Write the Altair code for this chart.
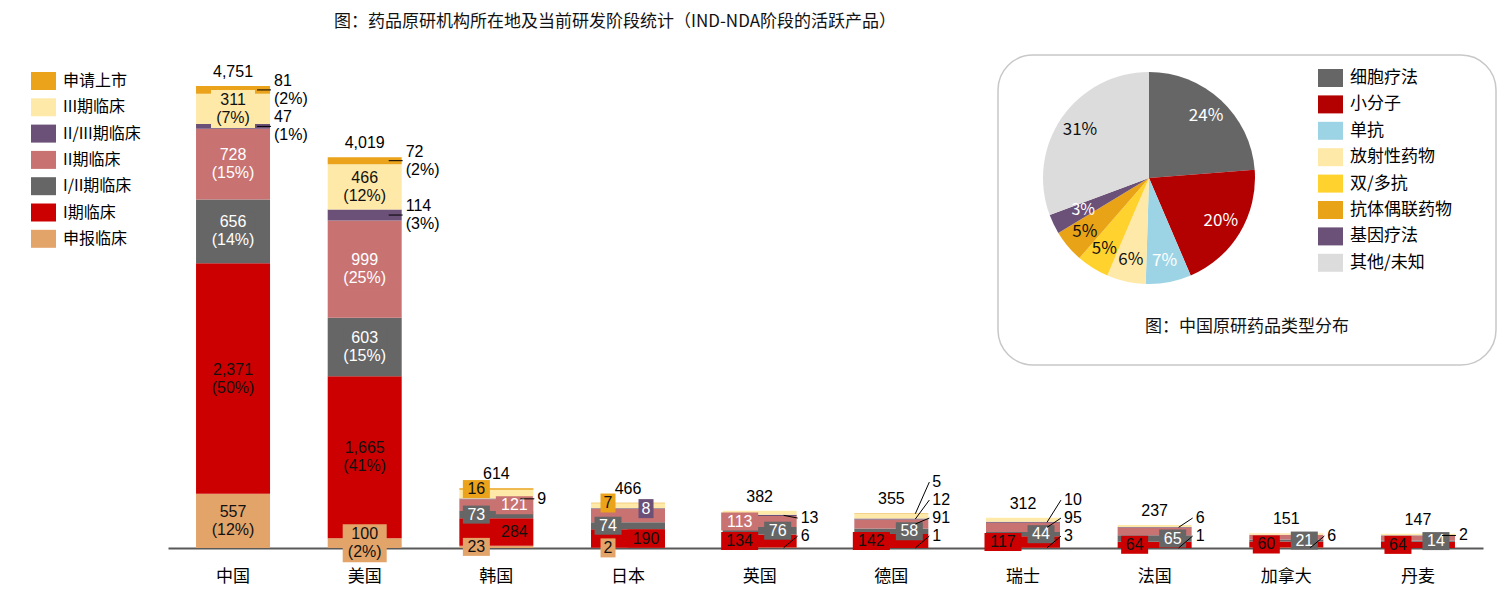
import altair as alt
import pandas as pd

# ---------------- data ----------------
countries = ['中国', '美国', '韩国', '日本', '英国', '德国', '瑞士', '法国', '加拿大', '丹麦']
stages = ['申报临床', 'I期临床', 'I/II期临床', 'II期临床', 'II/III期临床', 'III期临床', '申请上市']  # bottom -> top
stage_colors = ['#E3A46A', '#CC0000', '#666666', '#C87272', '#6B5077', '#FFE9A8', '#EAA31A']

filing   = [557, 100, 23, 2, 6, 1, 3, 1, 6, 0]
phase1   = [2371, 1665, 284, 190, 134, 142, 117, 64, 60, 64]
phase1_2 = [656, 603, 73, 74, 76, 58, 44, 65, 21, 14]
phase2   = [728, 999, 121, 135, 113, 91, 95, 80, 48, 50]
phase2_3 = [47, 114, 9, 8, 13, 12, 10, 6, 0, 2]
phase3   = [311, 466, 88, 50, 40, 46, 43, 21, 16, 17]
nda      = [81, 72, 16, 7, 0, 5, 0, 0, 0, 0]

types = ['细胞疗法', '小分子', '单抗', '放射性药物', '双/多抗', '抗体偶联药物', '基因疗法', '其他/未知']
shares = [24, 20, 7, 6, 5, 5, 3, 31]
type_colors = ['#666666', '#B30000', '#9DD4E5', '#FFE9A8', '#FFD22E', '#E9A317', '#6B5077', '#DCDCDC']

# label placement (style config): C centre, L/R boxed left/right, M outside at mid, digits = outside slot
place_filing = ['C', 'C', 'L', 'L', '0', '0', '0', '0', '0', '']
place_p1     = ['C', 'C', 'R', 'R', 'L', 'L', 'L', 'L', 'L', 'L']
place_p12    = ['C', 'C', 'L', 'L', 'R', 'R', 'R', 'R', 'R', 'R']
place_p2     = ['C', 'C', 'R', '', 'L', '1', '1', '', '', '']
place_p23    = ['M', 'M', 'M', 'R', '1', '2', '2', '1', '', 'M']
place_p3     = ['C', 'C', '', '', '', '', '', '', '', '']
place_nda    = ['M', 'M', 'L', 'L', '', '3', '', '', '', '']

values = [filing, phase1, phase1_2, phase2, phase2_3, phase3, nda]
places = [place_filing, place_p1, place_p12, place_p2, place_p23, place_p3, place_nda]

SLOT_BASE, SLOT_STEP = 123, 185
NUMFONT = 'Liberation Sans, Arial, Noto Sans CJK SC'
CJK = 'Noto Sans CJK SC'

rows, totals = [], []
for ci, c in enumerate(countries):
    total = sum(v[ci] for v in values)
    totals.append({'country': c, 'total': total, 'label': f'{total:,}'})
    cum = 0
    for si, s in enumerate(stages):
        v = values[si][ci]
        mid = cum + v / 2
        cum += v
        p = places[si][ci]
        big = c in ('中国', '美国')
        pct = round(v / total * 100)
        if big and p in ('C', 'M'):
            lab = f'{v:,}\n({pct}%)'
            kind = 'C'
        else:
            lab = f'{v:,}'
            kind = str(len(lab))
        if p in ('C', 'L', 'R', 'M') or not p:
            ly = mid
        else:
            ly = SLOT_BASE + SLOT_STEP * int(p)
        rows.append(dict(country=c, stage=s, idx=si, value=v, mid=mid, ly=ly,
                         place=p, label=lab, kind=kind))
df = pd.DataFrame(rows)
df_bars = df[df.value > 0]
inside = df[df.place.isin(['C', 'L', 'R'])]
outside = df[~df.place.isin(['C', 'L', 'R', ''])]
df_tot = pd.DataFrame(totals)

# ---------------- scales ----------------
legend_order = stages[::-1]
legend_colors = stage_colors[::-1]
color_scale = alt.Scale(domain=legend_order, range=legend_colors)
yscale = alt.Scale(domain=[0, 5553], nice=False, zero=True)
X = alt.X('country:N', sort=countries,
          scale=alt.Scale(paddingInner=0.438, paddingOuter=0.213),
          axis=alt.Axis(title=None, labelAngle=0, domainColor='#595959', domainWidth=2,
                        ticks=False, grid=False, labelFontSize=17, labelFont=CJK,
                        labelColor='#000000', labelPadding=20))

def Y(field, **kw):
    return alt.Y(field, scale=yscale, axis=None, title=None, **kw)

sq_path = 'M-1,-0.72H1V0.72H-1Z'

bars = alt.Chart(df_bars).mark_bar(size=74).encode(
    x=X,
    y=Y('value:Q', stack='zero'),
    color=alt.Color('stage:N', scale=color_scale,
                    legend=alt.Legend(title=None, orient='none', legendX=-137, legendY=60.5,
                                      symbolType=sq_path, symbolSize=625, symbolStrokeWidth=0,
                                      labelFontSize=16, labelFont=CJK, labelColor='#000000',
                                      labelOffset=7, rowPadding=4.3, padding=0)),
    order=alt.Order('idx:Q', sort='ascending'),
)

box_dims = {'C': (44, 38), '1': (15, 19), '2': (27, 18), '3': (37, 18), '5': (44, 18)}
side_off = {'L': -20, 'C': 0, 'R': 18}

def rect_path(w, h):
    r = h / w
    return f'M-1,-{r:.3f}H1V{r:.3f}H-1Z'

box_layers = []
for side, off in side_off.items():
    for kind, (w, h) in box_dims.items():
        sub = inside[(inside.place == side) & (inside.kind == kind)]
        if len(sub) == 0:
            continue
        box_layers.append(
            alt.Chart(sub).mark_point(shape=rect_path(w, h), size=w * w, filled=True,
                                      opacity=1, strokeWidth=0, xOffset=off).encode(
                x=X, y=Y('ly:Q'),
                color=alt.Color('stage:N', scale=color_scale, legend=None))
        )

light_stages = ['I/II期临床', 'II期临床', 'II/III期临床']
text_layers = []
for side, off in side_off.items():
    for two_line in (True, False):
        sub = inside[(inside.place == side) & ((inside.kind == 'C') == two_line)]
        if len(sub) == 0:
            continue
        text_layers.append(
            alt.Chart(sub).mark_text(xOffset=off, dy=-9 if two_line else 0, fontSize=16,
                                     font=NUMFONT, lineBreak='\n', lineHeight=18,
                                     baseline='middle', align='center').encode(
                x=X, y=Y('ly:Q'), text='label:N',
                color=alt.condition(alt.FieldOneOfPredicate(field='stage', oneOf=light_stages),
                                    alt.value('#FFFFFF'), alt.value('#111111')))
        )

rules = alt.Chart(outside).mark_rule(xOffset=24, x2Offset=38, color='#000000', strokeWidth=1).encode(
    x=X, x2=alt.X2('country:N'), y=Y('mid:Q'), y2=alt.Y2('ly:Q'))

out_layers = []
for two_line in (True, False):
    sub = outside[(outside.kind == 'C') == two_line]
    if len(sub) == 0:
        continue
    out_layers.append(
        alt.Chart(sub).mark_text(xOffset=41, dy=-9 if two_line else 0, fontSize=16, font=NUMFONT,
                                 lineBreak='\n', lineHeight=18, baseline='middle', align='left',
                                 color='#000000').encode(
            x=X, y=Y('ly:Q'), text='label:N')
    )

tot_text = alt.Chart(df_tot).mark_text(dy=-14, fontSize=16, font=NUMFONT, baseline='middle',
                                       align='center', color='#000000').encode(
    x=X, y=Y('total:Q'), text='label:N')

bar_layer = alt.layer(bars, *box_layers, *text_layers, rules, *out_layers, tot_text)

# ---------------- pie panel ----------------
df_pie = pd.DataFrame({'type': types, 'share': shares, 'ord': list(range(len(types)))})
df_pie['lab'] = df_pie['share'].astype(str) + '%'
df_pie['end'] = df_pie['share'].cumsum()
df_pie['start'] = df_pie['end'] - df_pie['share']
df_pie['midang'] = (df_pie['start'] + df_pie['end']) / 2
pie_total = float(sum(shares))
one = pd.DataFrame({'a': [0]})

CX, CY = 981, 170
theta_scale = alt.Scale(domain=[0, pie_total])
panel = alt.Chart(one).mark_rect(cornerRadius=35, fill='#FFFFFF', stroke='#C8C8C8',
                                 strokeWidth=1.5).encode(
    x=alt.value(830), x2=alt.value(1328), y=alt.value(47), y2=alt.value(357))

arcs = alt.Chart(df_pie).mark_arc(radius=106).encode(
    theta=alt.Theta('start:Q', scale=theta_scale),
    theta2=alt.Theta2('end:Q'),
    color=alt.Color('type:N', scale=alt.Scale(domain=types, range=type_colors),
                    legend=alt.Legend(title=None, orient='none', legendX=1150, legendY=57.5,
                                      symbolType=sq_path, symbolSize=625, symbolStrokeWidth=0,
                                      labelFontSize=17, labelFont=CJK, labelColor='#000000',
                                      labelOffset=7, rowPadding=4.4, padding=0)),
    x=alt.value(CX), y=alt.value(CY))

light_types = ['细胞疗法', '小分子', '单抗', '基因疗法']
pie_text = alt.Chart(df_pie[df_pie.type != '基因疗法']).mark_text(radius=84, fontSize=17, font=CJK).encode(
    theta=alt.Theta('midang:Q', scale=theta_scale),
    text='lab:N',
    color=alt.condition(alt.FieldOneOfPredicate(field='type', oneOf=light_types),
                        alt.value('#FFFFFF'), alt.value('#111111')),
    x=alt.value(CX), y=alt.value(CY))

gene = df_pie[df_pie.type == '基因疗法']
gene_text = alt.Chart(gene).mark_text(radius=73, fontSize=16, font=CJK, color='#FFFFFF').encode(
    theta=alt.Theta('midang:Q', scale=theta_scale), text='lab:N',
    x=alt.value(CX), y=alt.value(CY))

caption = alt.Chart(one).mark_text(text='图：中国原研药品类型分布', fontSize=17, font=CJK,
                                   color='#111111', align='center', baseline='middle').encode(
    x=alt.value(1079), y=alt.value(319))

pie_layer = alt.layer(panel, arcs, pie_text, gene_text, caption)

title = alt.Chart(one).mark_text(text='图：药品原研机构所在地及当前研发阶段统计（IND-NDA阶段的活跃产品）',
                                 fontSize=17, font=CJK, color='#111111', align='center',
                                 baseline='middle').encode(
    x=alt.value(447), y=alt.value(14))

chart = alt.layer(title, bar_layer, pie_layer).resolve_scale(color='independent').properties(
    width=1315, height=540,
    padding={'left': 160, 'top': 0, 'right': 15, 'bottom': 38},
    autosize=alt.AutoSizeParams(type='none'),
).configure_view(stroke=None)

chart.save('out.html', embed_options={'renderer': 'svg', 'actions': False})
